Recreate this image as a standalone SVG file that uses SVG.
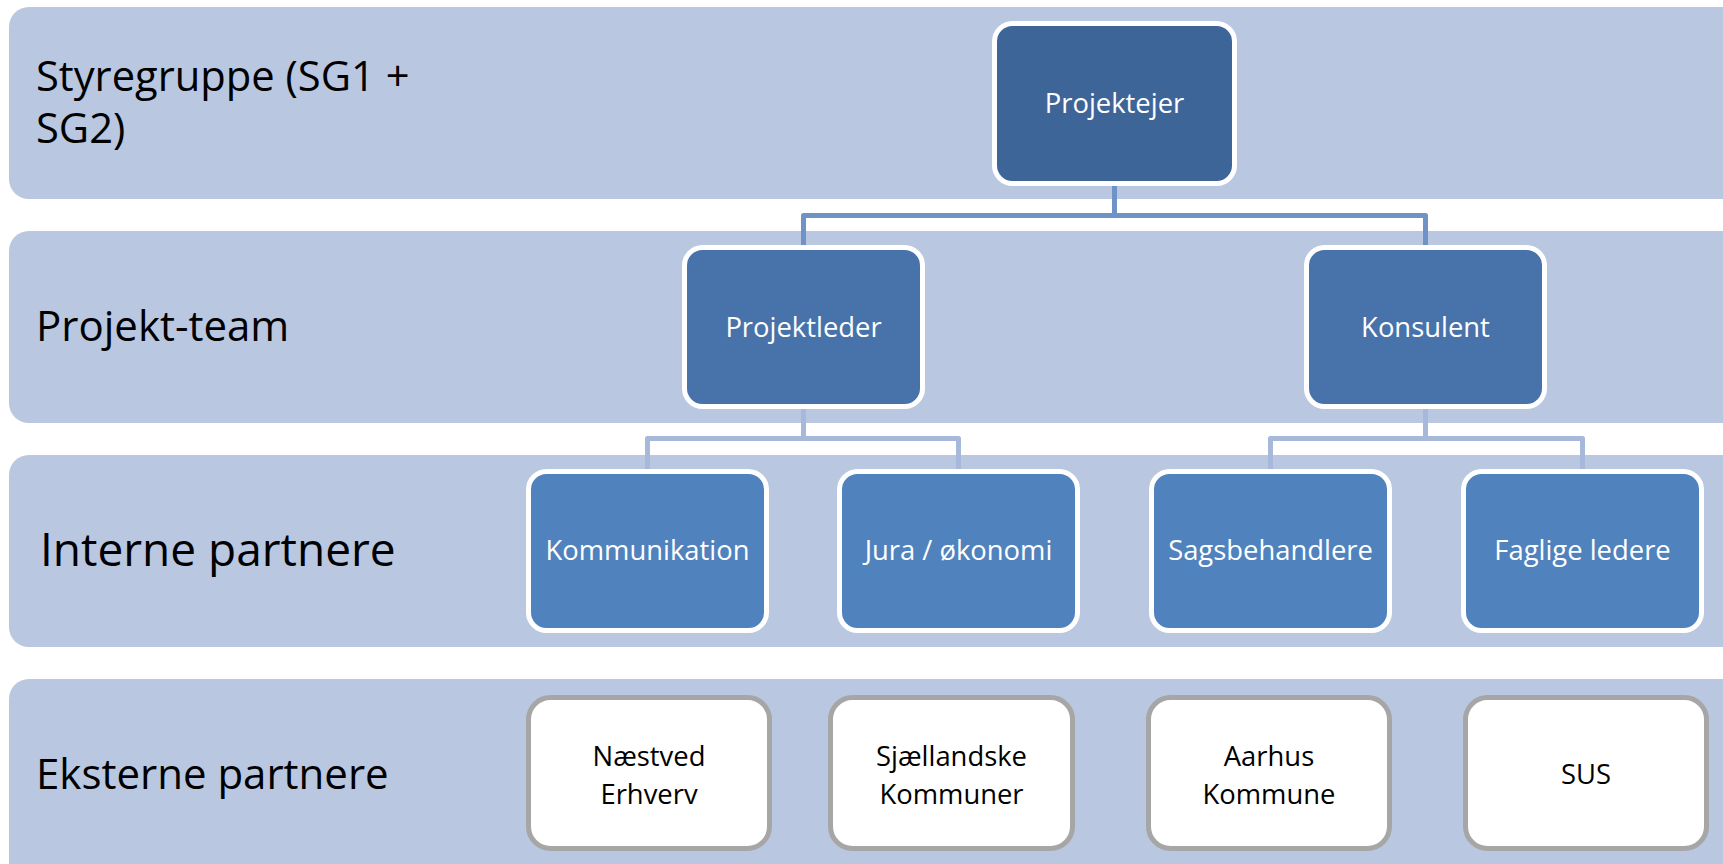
<svg xmlns="http://www.w3.org/2000/svg" width="1723" height="864" viewBox="0 0 1723 864">
<style>
.band{fill:#B9C7E0}
.lbl{font-family:"Open Sans","Noto Sans",sans-serif;fill:#000}
.n1{fill:#3E6597;stroke:#fff;stroke-width:5}
.n2{fill:#4773AA;stroke:#fff;stroke-width:5}
.n3{fill:#5082BE;stroke:#fff;stroke-width:5}
.n4{fill:#fff;stroke:#A6A6A6;stroke-width:5}
.t{font-family:"Open Sans","Noto Sans",sans-serif;font-size:27.4px;text-anchor:middle;fill:#fff}
.tb{font-family:"Open Sans","Noto Sans",sans-serif;font-size:27.4px;text-anchor:middle;fill:#000}
.c1{fill:none;stroke:#6F93C6;stroke-width:5;stroke-linejoin:round}
.c2{fill:none;stroke:#A6B9DA;stroke-width:5;stroke-linejoin:round}
</style>
<rect width="1723" height="864" fill="#fff"/>
<g id="bands">
<rect class="band" x="9" y="7" width="1760" height="192" rx="20"/>
<rect class="band" x="9" y="231" width="1760" height="192" rx="20"/>
<rect class="band" x="9" y="455" width="1760" height="192" rx="20"/>
<rect class="band" x="9" y="679" width="1760" height="205" rx="20"/>
</g>
<g id="labels">
<text class="lbl" x="36" y="91" font-size="41.7">Styregruppe (SG1 +</text>
<text class="lbl" x="36" y="143" font-size="41.7">SG2)</text>
<text class="lbl" x="36" y="341" font-size="42">Projekt-team</text>
<text class="lbl" x="40" y="566" font-size="46">Interne partnere</text>
<text class="lbl" x="36" y="789" font-size="42">Eksterne partnere</text>
</g>
<g id="connectors">
<path class="c1" d="M1114.5 186 V215.5 M803.5 245 V215.5 H1425.5 V245"/>
<path class="c2" d="M803.5 409 V438.5 M647.5 469 V438.5 H958.5 V469"/>
<path class="c2" d="M1425.5 409 V438.5 M1270.5 469 V438.5 H1582.5 V469"/>
</g>
<g id="projektejer">
<rect class="n1" x="994.5" y="23.5" width="240" height="160" rx="18"/>
<text class="t" x="1114.5" y="113">Projektejer</text>
</g>
<g id="projektleder">
<rect class="n2" x="684.5" y="247.5" width="238" height="159" rx="18"/>
<text class="t" x="803.5" y="337">Projektleder</text>
</g>
<g id="konsulent">
<rect class="n2" x="1306.5" y="247.5" width="238" height="159" rx="18"/>
<text class="t" x="1425.5" y="337">Konsulent</text>
</g>
<g id="kommunikation">
<rect class="n3" x="528.5" y="471.5" width="238" height="159" rx="18"/>
<text class="t" x="647.5" y="560">Kommunikation</text>
</g>
<g id="jura">
<rect class="n3" x="839.5" y="471.5" width="238" height="159" rx="18"/>
<text class="t" x="958.5" y="560">Jura / økonomi</text>
</g>
<g id="sagsbehandlere">
<rect class="n3" x="1151.5" y="471.5" width="238" height="159" rx="18"/>
<text class="t" x="1270.5" y="560">Sagsbehandlere</text>
</g>
<g id="faglige">
<rect class="n3" x="1463.5" y="471.5" width="238" height="159" rx="18"/>
<text class="t" x="1582.5" y="560">Faglige ledere</text>
</g>
<g id="naestved">
<rect class="n4" x="528.5" y="697.5" width="241" height="151" rx="22"/>
<text class="tb" x="649" y="766">Næstved</text>
<text class="tb" x="649" y="804">Erhverv</text>
</g>
<g id="sjaellandske">
<rect class="n4" x="830.5" y="697.5" width="242" height="151" rx="22"/>
<text class="tb" x="951.5" y="766">Sjællandske</text>
<text class="tb" x="951.5" y="804">Kommuner</text>
</g>
<g id="aarhus">
<rect class="n4" x="1148.5" y="697.5" width="241" height="151" rx="22"/>
<text class="tb" x="1269" y="766">Aarhus</text>
<text class="tb" x="1269" y="804">Kommune</text>
</g>
<g id="sus">
<rect class="n4" x="1465.5" y="697.5" width="241" height="151" rx="22"/>
<text class="tb" x="1586" y="784">SUS</text>
</g>
</svg>
